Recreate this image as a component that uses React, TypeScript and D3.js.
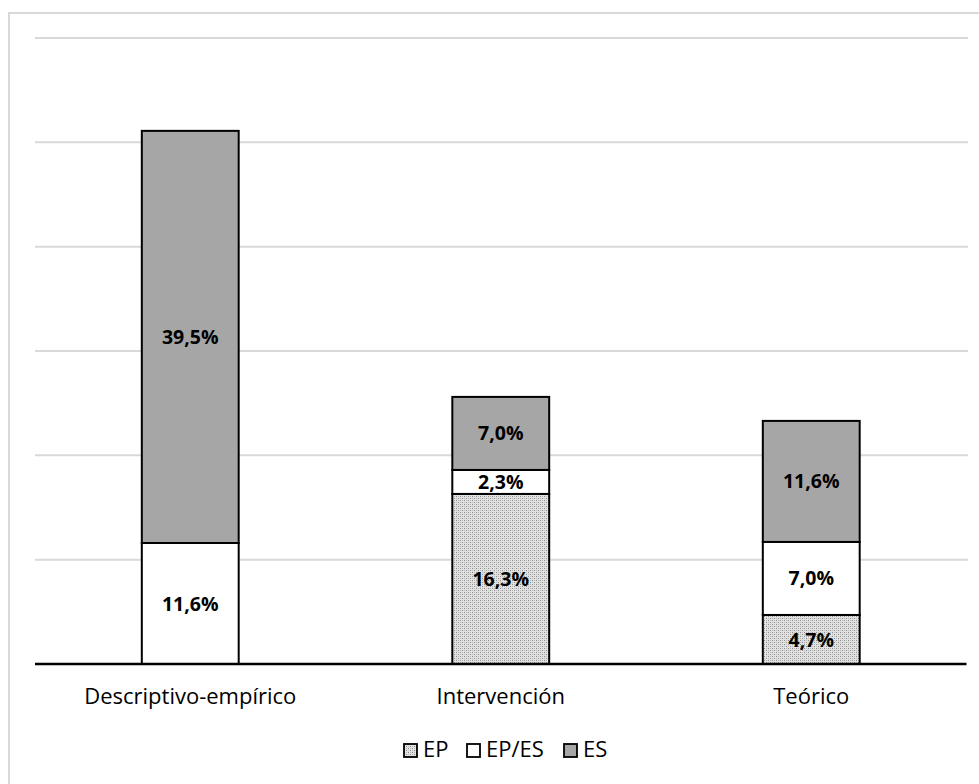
import React from "react";
import * as d3 from "d3";

const categories = ["Descriptivo-empírico", "Intervención", "Teórico"];
const seriesNames = ["EP", "EP/ES", "ES"];
const epValues = [0, 16.3, 4.7];
const epesValues = [11.6, 2.3, 7.0];
const esValues = [39.5, 7.0, 11.6];
const yTicks = [0, 10, 20, 30, 40, 50, 60];

const W = 979;
const H = 784;
const margin = { left: 35, right: 13, top: 38, bottom: 120 };

export default function App() {
  const x = d3
    .scaleBand<string>()
    .domain(categories)
    .range([margin.left, 966.5])
    .paddingInner(0.688)
    .paddingOuter(0.344);
  const y = d3.scaleLinear().domain([0, 60]).range([664, 38]);

  const rows = categories.map((c, i) => ({
    cat: c,
    EP: epValues[i],
    "EP/ES": epesValues[i],
    ES: esValues[i],
  }));
  const stack = d3.stack<any>().keys(seriesNames)(rows);
  const fills: Record<string, string> = {
    EP: "url(#dots)",
    "EP/ES": "#ffffff",
    ES: "#a6a6a6",
  };
  const font = "'Open Sans', 'DejaVu Sans', sans-serif";

  const legendX = [404, 467, 564];

  return (
    <svg
      width={W}
      height={H}
      style={{ position: "absolute", left: 0, top: 0, background: "#fff" }}
      fontFamily={font}
    >
      <defs>
        <pattern id="dots" width="4" height="4" patternUnits="userSpaceOnUse">
          <rect width="4" height="4" fill="#e2e2e2" />
          <rect x="0" y="0" width="1" height="1" fill="#8c8c8c" />
          <rect x="2" y="2" width="1" height="1" fill="#8c8c8c" />
          <rect x="2" y="0" width="1" height="1" fill="#bdbdbd" />
          <rect x="0" y="2" width="1" height="1" fill="#bdbdbd" />
        </pattern>
      </defs>
      <rect x={9} y={13} width={1000} height={1000} fill="none" stroke="#d9d9d9" strokeWidth={2} />
      {yTicks.slice(1).map((t) => (
        <line key={t} x1={margin.left} x2={968} y1={y(t)} y2={y(t)} stroke="#d9d9d9" strokeWidth={2} />
      ))}
      {stack.map((s) =>
        s.map((d, i) => {
          const v = d[1] - d[0];
          if (v <= 0) return null;
          const bx = x(categories[i])!;
          const bw = x.bandwidth();
          return (
            <g key={s.key + i}>
              <rect
                x={bx}
                y={y(d[1])}
                width={bw}
                height={y(d[0]) - y(d[1])}
                fill={fills[s.key]}
                stroke="#000"
                strokeWidth={2}
              />
              <text
                x={bx + bw / 2}
                y={(y(d[0]) + y(d[1])) / 2}
                dy="0.36em"
                textAnchor="middle"
                fontWeight="bold"
                fontSize={19.5}
                fill="#000"
              >
                {v.toFixed(1).replace(".", ",") + "%"}
              </text>
            </g>
          );
        })
      )}
      <line x1={margin.left} x2={966.5} y1={664} y2={664} stroke="#000" strokeWidth={2.5} />
      {categories.map((c) => (
        <text key={c} x={x(c)! + x.bandwidth() / 2} y={704} textAnchor="middle" fontSize={22} fill="#000">
          {c}
        </text>
      ))}
      {seriesNames.map((n, i) => (
        <g key={n}>
          <rect x={legendX[i]} y={744} width={13} height={13} fill={fills[n]} stroke="#000" strokeWidth={1.8} />
          <text x={legendX[i] + 19} y={757} fontSize={22} fill="#000">
            {n}
          </text>
        </g>
      ))}
    </svg>
  );
}
